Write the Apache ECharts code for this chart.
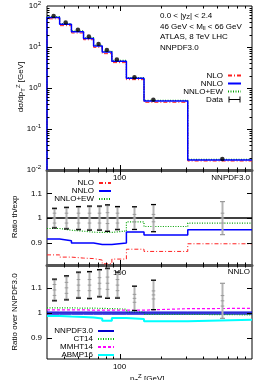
<!DOCTYPE html>
<html><head><meta charset="utf-8">
<script src="https://cdn.jsdelivr.net/npm/echarts@6/dist/echarts.min.js"></script>
<style>html,body{margin:0;padding:0;background:#fff;}#c{width:266px;height:380px;}</style>
</head><body><div id="c"></div>
<script>
// ---------- data ----------
const binEdges   = [30, 37, 45, 55, 65, 75, 88, 112, 150, 310, 900];
const dataPt     = [33.5, 40.9, 50.1, 60.1, 70.6, 81, 95.6, 128, 175, 550];
const dataXsec   = [57.2, 39.4, 26.2, 18.0, 11.8, 8.44, 4.99, 1.83, 0.518, 0.0185];
const ratioNLO   = [0.851, 0.842, 0.838, 0.836, 0.830, 0.815, 0.834, 0.874, 0.865, 0.896];
const ratioNNLO  = [0.915, 0.908, 0.899, 0.899, 0.893, 0.893, 0.899, 0.944, 0.932, 0.953];
const ratioNNLOEW= [0.958, 0.951, 0.947, 0.943, 0.942, 0.942, 0.948, 0.985, 0.966, 0.980];
const errBlack   = [0.040, 0.044, 0.047, 0.049, 0.049, 0.054, 0.047, 0.046, 0.055, 0.0];
const errGray    = [0.037, 0.041, 0.044, 0.046, 0.046, 0.051, 0.044, 0.046, 0.055, 0.067];
const errInner   = [0.020, 0.020, 0.020, 0.020, 0.020, 0.022, 0.020, 0.015, 0.015, 0.020];
const pdfNNPDF   = [1, 1, 1, 1, 1, 1, 1, 1, 1, 1];
const bandNNPDF  = [0.005, 0.005, 0.005, 0.005, 0.005, 0.005, 0.005, 0.005, 0.005, 0.005];
const pdfCT14    = [1.021, 1.021, 1.020, 1.020, 1.019, 1.018, 1.016, 1.004, 0.995, 0.993];
const pdfMMHT14  = [1.013, 1.013, 1.013, 1.012, 1.012, 1.012, 1.012, 1.012, 1.018, 1.019];
const pdfABMP16  = [0.988, 0.986, 0.984, 0.982, 0.978, 0.969, 0.980, 0.976, 0.967, 0.973];
const xLabelVals = [100];
const xMajorTicks= [100];
const xMinorTicks= [40, 50, 60, 70, 80, 90, 200, 300, 400, 500, 600, 700, 800];
const yMainLabels= [0.01, 0.1, 1, 10, 100];
const yMainMajor = [0.1, 1, 10];
const yMainMinor = [0.02,0.03,0.04,0.05,0.06,0.07,0.08,0.09,0.2,0.3,0.4,0.5,0.6,0.7,0.8,0.9,2,3,4,5,6,7,8,9,20,30,40,50,60,70,80,90];
const yRatioLabels = [0.9, 1, 1.1];

// ---------- helpers ----------
const FONT = 'Liberation Sans';
function steps(vals, dropFrom) {
  const d = [];
  if (dropFrom !== undefined) d.push([binEdges[0], dropFrom]);
  vals.forEach((v, i) => d.push([binEdges[i], v]));
  d.push([binEdges[binEdges.length - 1], vals[vals.length - 1]]);
  return d;
}
function flat(v) { return [[binEdges[0], v], [binEdges[binEdges.length - 1], v]]; }
function xTick(params, api) {
  const cs = params.coordSys;
  const x = Math.round(api.coord([api.value(0), api.value(1)])[0]) + 0.5;
  const len = api.value(2) ? 5 : 2.5;
  const b = cs.y + cs.height;
  return {type:'group', children:[
    {type:'line', shape:{x1:x, y1:b, x2:x, y2:b - len}, style:{stroke:'#000', lineWidth:1}},
    {type:'line', shape:{x1:x, y1:cs.y, x2:x, y2:cs.y + len}, style:{stroke:'#000', lineWidth:1}}
  ]};
}
function yTick(params, api) {
  const cs = params.coordSys;
  const y = Math.round(api.coord([api.value(0), api.value(1)])[1]) + 0.5;
  const len = api.value(2) ? 5 : 2.5;
  const r = cs.x + cs.width;
  return {type:'group', children:[
    {type:'line', shape:{x1:cs.x, y1:y, x2:cs.x + len, y2:y}, style:{stroke:'#000', lineWidth:1}},
    {type:'line', shape:{x1:r, y1:y, x2:r - len, y2:y}, style:{stroke:'#000', lineWidth:1}}
  ]};
}
function errItem(params, api) {
  const x = api.value(0), y = api.value(1), eb = api.value(2), eg = api.value(3), es = api.value(4);
  const px = Math.round(api.coord([x, y])[0]) + 0.5;
  const py = v => api.coord([x, v])[1];
  const ch = [];
  const cap = 2.5;
  if (eb > 0) ch.push({type:'line', shape:{x1:px, y1:py(y - eb), x2:px, y2:py(y + eb)}, style:{stroke:'#000', lineWidth:1}});
  ch.push({type:'line', shape:{x1:px, y1:py(y - eg), x2:px, y2:py(y + eg)}, style:{stroke:'#b4b4b4', lineWidth:2}});
  [y - eg, y + eg].forEach(v => ch.push({type:'line', shape:{x1:px - cap, y1:py(v), x2:px + cap, y2:py(v)}, style:{stroke:'#999', lineWidth:1.2}}));
  if (eb > 0) [y - eb, y + eb].forEach(v => ch.push({type:'line', shape:{x1:px - cap, y1:py(v), x2:px + cap, y2:py(v)}, style:{stroke:'#000', lineWidth:1.2}}));
  [y - es, y, y + es].forEach(v => ch.push({type:'line', shape:{x1:px - 1.8, y1:py(v), x2:px + 1.8, y2:py(v)}, style:{stroke:'#999', lineWidth:1}}));
  return {type:'group', children:ch};
}
function tickSeries(idx, yRef, yMajor, yMinor) {
  return [
    {type:'custom', xAxisIndex:idx, yAxisIndex:idx, silent:true, z:20, renderItem:xTick,
     data:[...xMinorTicks.map(v => [v, yRef, 0]), ...xMajorTicks.map(v => [v, yRef, 1])]},
    {type:'custom', xAxisIndex:idx, yAxisIndex:idx, silent:true, z:20, renderItem:yTick,
     data:[...yMinor.map(v => [100, v, 0]), ...yMajor.map(v => [100, v, 1])]}
  ];
}
const lab = {fontSize:8, fontFamily:FONT, color:'#000'};
function xAx(idx, thick) {
  return {type:'log', logBase:10, gridIndex:idx, min:30, max:900,
    axisLine:{show:thick, onZero:false, lineStyle:{color:'#555', width:3}},
    axisTick:{show:false}, splitLine:{show:false}, minorTick:{show:false},
    axisLabel:Object.assign({customValues:xLabelVals, margin:4, formatter: v => String(Math.round(v))}, lab)};
}
function ratioY(idx, min, max) {
  return {type:'value', gridIndex:idx, min:min, max:max, axisLine:{show:false}, axisTick:{show:false}, splitLine:{show:false},
    axisLabel:Object.assign({customValues:yRatioLabels, margin:5, formatter: v => String(Math.round(v * 10) / 10)}, lab)};
}

const NLOstyle  = {color:'#ff2020', width:1, type:[4, 2, 1, 2]};
const NNLOstyle = {color:'#0000ff', width:1.5, type:'solid'};
const EWstyle   = {color:'#00a000', width:1.2, type:[1, 1.5]};
function line(name, idx, data, ls, z) {
  return {type:'line', name:name, xAxisIndex:idx, yAxisIndex:idx, data:data, step:'end', symbol:'none',
    lineStyle:ls, itemStyle:{color:ls.color}, z:z || 2, silent:true, animation:false};
}

const mainNLO  = ratioNLO.map((r, i) => r * dataXsec[i]);
const mainNNLO = ratioNNLO.map((r, i) => r * dataXsec[i]);
const mainEW   = ratioNNLOEW.map((r, i) => r * dataXsec[i]);

const series = [
  line('NLO', 0, steps(mainNLO, 0.01), NLOstyle),
  line('NNLO+EW', 0, steps(mainEW, 0.01), EWstyle),
  line('NNLO', 0, steps(mainNNLO, 0.01), NNLOstyle, 3),
  {type:'scatter', name:'Data', xAxisIndex:0, yAxisIndex:0, data:dataPt.map((x, i) => [x, dataXsec[i]]),
   symbol:'circle', symbolSize:4.5, itemStyle:{color:'#000'}, z:5, silent:true},
  // ratio th/exp
  line('NLO', 1, steps(ratioNLO), NLOstyle),
  line('NNLO+EW', 1, steps(ratioNNLOEW), EWstyle),
  line('NNLO', 1, steps(ratioNNLO), NNLOstyle, 3),
  {type:'line', name:'unity', xAxisIndex:1, yAxisIndex:1, data:flat(1), symbol:'none', lineStyle:{color:'#000', width:1.5}, z:4, silent:true},
  {type:'custom', name:'err1', xAxisIndex:1, yAxisIndex:1, z:6, silent:true, renderItem:errItem,
   data:dataPt.map((x, i) => [x, 1, errBlack[i], errGray[i], errInner[i]])},
  // ratio over NNPDF3.0
  line('NNPDF up', 2, steps(pdfNNPDF.map((v, i) => v + bandNNPDF[i])), {color:'#0000dd', width:0.8, type:'solid'}),
  line('NNPDF dn', 2, steps(pdfNNPDF.map((v, i) => v - bandNNPDF[i])), {color:'#0000dd', width:0.8, type:'solid'}),
  line('ABMP16', 2, steps(pdfABMP16), {color:'#00ffff', width:2, type:'solid'}),
  line('CT14', 2, steps(pdfCT14), {color:'#00c000', width:1.2, type:[1, 1.5]}),
  line('MMHT14', 2, steps(pdfMMHT14), {color:'#ff00ff', width:1.2, type:[3, 2]}),
  line('NNPDF3.0', 2, steps(pdfNNPDF), {color:'#0000cc', width:1.5, type:'solid'}, 4),
  {type:'custom', name:'err2', xAxisIndex:2, yAxisIndex:2, z:6, silent:true, renderItem:errItem,
   data:dataPt.map((x, i) => [x, 1 / ratioNNLO[i], errBlack[i] / ratioNNLO[i], errGray[i] / ratioNNLO[i], errInner[i] / ratioNNLO[i]])},
  ...tickSeries(0, 1, yMainMajor, yMainMinor),
  ...tickSeries(1, 1, yRatioLabels, []),
  ...tickSeries(2, 1, yRatioLabels, [])
];

function legend(names, right, top, iw, lh) {
  return {show:true, orient:'vertical', align:'right', right:right, top:top, padding:0, itemGap:0,
    itemWidth:iw, itemHeight:6, selectedMode:false, data:names,
    itemStyle:{opacity:0},
    textStyle:{fontSize:8, fontFamily:FONT, color:'#000', lineHeight:lh}};
}
const sub = {fontSize:6, fontFamily:FONT, color:'#000', padding:[4, 0, 0, 0]};
const sup = {fontSize:6, fontFamily:FONT, color:'#000', padding:[0, 0, 5, 0]};
function txt(x, y, text, align, extra) {
  return Object.assign({type:'text', x:x, y:y, silent:true, z:50,
    style:{text:text, fontSize:8, fontFamily:FONT, fill:'#000', align:align || 'left', verticalAlign:'middle', rich:{sub:sub, sup:sup}}}, extra || {});
}

const option = {
  animation:false,
  backgroundColor:'#fff',
  grid:[
    {left:47, width:205, top:5, height:165, show:true, borderColor:'#000', borderWidth:1, backgroundColor:'transparent'},
    {left:47, width:205, top:170, height:95, show:true, borderColor:'#000', borderWidth:1, backgroundColor:'transparent'},
    {left:47, width:205, top:265, height:94, show:true, borderColor:'#000', borderWidth:1, backgroundColor:'transparent'}
  ],
  xAxis:[xAx(0, true), xAx(1, true), xAx(2, false)],
  yAxis:[
    {type:'log', logBase:10, gridIndex:0, min:0.01, max:100, axisLine:{show:false}, axisTick:{show:false}, splitLine:{show:false}, minorTick:{show:false},
     axisLabel:Object.assign({customValues:yMainLabels, margin:6,
       formatter: v => '10{s|' + Math.round(Math.log10(v)) + '}',
       rich:{s:{fontSize:6, fontFamily:FONT, color:'#000', padding:[0, 0, 6, 0]}}}, lab)},
    ratioY(1, 0.81, 1.195),
    ratioY(2, 0.816, 1.193)
  ],
  legend:[
    legend(['NLO', 'NNLO', 'NNLO+EW', {name:'Data', icon:'path://M0,0h1v6h-1zM1,2.5h10v1h-10zM11,0h1v6h-1z', itemStyle:{opacity:1, color:'#000'}}], 24, 71.5, 13, 7.8),
    legend(['NLO', 'NNLO', 'NNLO+EW'], 154, 179, 12, 7.3),
    legend(['NNPDF3.0', 'CT14', 'MMHT14', 'ABMP16'], 151, 327, 16, 8)
  ],
  graphic:[
    txt(160, 15.7, '0.0 < |y{sub|Z}| < 2.4'),
    txt(160, 26.3, '46 GeV < M{sub|ll} < 66 GeV'),
    txt(160, 37.2, 'ATLAS, 8 TeV LHC'),
    txt(160, 47.8, 'NNPDF3.0'),
    txt(250, 177.5, 'NNPDF3.0', 'right'),
    txt(250, 271.5, 'NNLO', 'right'),
    txt(21, 87, 'dσ/dp{sub|T}{sup|Z} [GeV]', 'center', {rotation:Math.PI / 2}),
    txt(15, 217, 'Ratio th/exp', 'center', {rotation:Math.PI / 2}),
    txt(15, 312, 'Ratio over NNPDF3.0', 'center', {rotation:Math.PI / 2}),
    txt(130, 379, 'p{sub|T}{sup|Z} [GeV]', 'left')
  ],
  series:series
};
const chart = echarts.init(document.getElementById('c'));
chart.setOption(option);
</script></body></html>
